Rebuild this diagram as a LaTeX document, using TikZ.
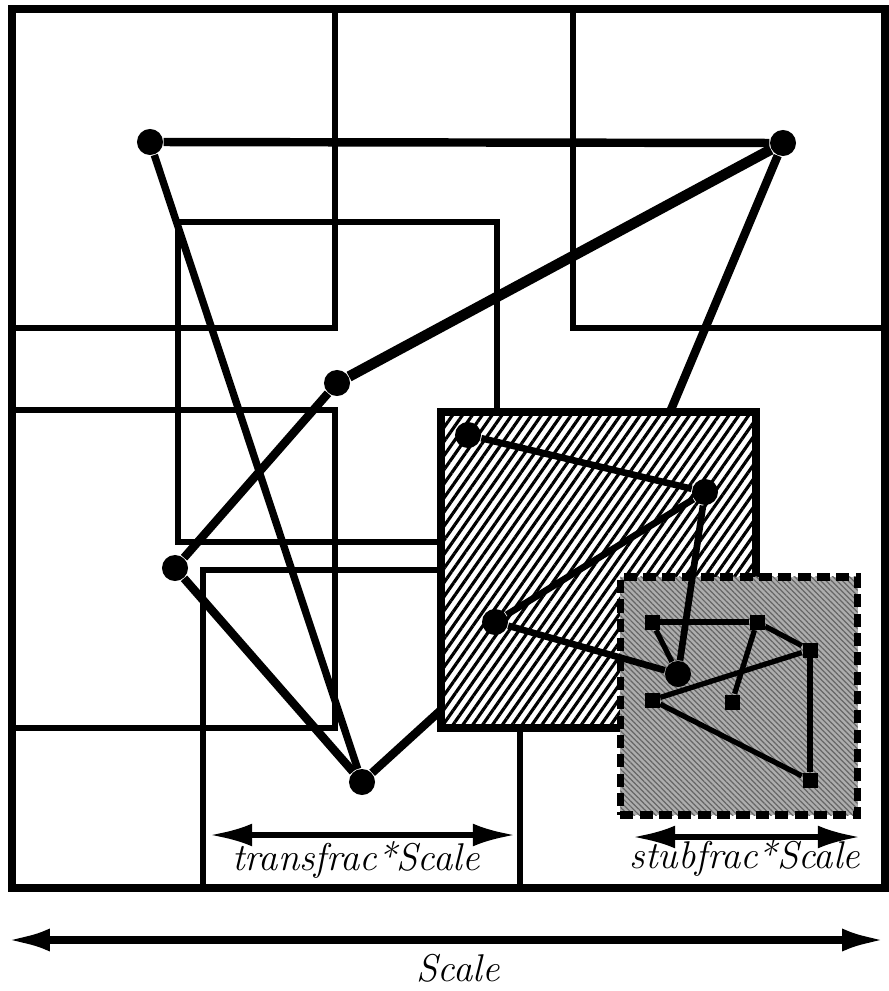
\documentclass[tikz,border=0pt]{standalone}
\usepackage{tikz}
\usetikzlibrary{arrows.meta, patterns.meta}
\tikzset{
    cell/.style={draw=black, line width=1.6pt},
    vertex/.style={circle, fill=black, inner sep=0pt, minimum size=0.26cm},
    subvertex/.style={rectangle, fill=black, inner sep=0pt, minimum size=0.15cm},
    edge/.style={draw=black, line width=2.4pt},
    inneredge/.style={draw=black, line width=1.9pt},
    subedge/.style={draw=black, line width=1.5pt},
    transbox/.style={rectangle, draw=black, line width=2.4pt, preaction={fill=white},
        pattern={Lines[angle=55, distance=2.3pt, line width=0.9pt]}},
    stubbox/.style={rectangle, draw=black, line width=2.1pt, dash pattern=on 3.7pt off 1.8pt,
        preaction={fill=black!32}, pattern={Lines[angle=-45, distance=1.1pt, line width=0.35pt]},
        pattern color=black!60},
    dimarrow/.style={{Latex[length=12pt,width=6.5pt]}-{Latex[length=12pt,width=6.5pt]}, line width=1.5pt},
    dimlabel/.style={font=\fontsize{11}{13}\selectfont\itshape, inner sep=0pt, anchor=base}
}

\begin{document}
\begin{tikzpicture}[x=0.01cm, y=-0.01cm]
    \useasboundingbox (0,0) rectangle (889,991);

    % domain and the cells of the decomposition
    \draw[cell, line width=2.2pt] (12,9) rectangle (885,888);
    \draw[cell] (12,328) -| (335,9);
    \draw[cell] (573,9) |- (885,328);
    \draw[cell] (178,222) rectangle (497,542);
    \draw[cell] (12,410) rectangle (335,728);
    \draw[cell] (203,570) rectangle (520,888);

    \node[transbox, minimum width=3.15cm, minimum height=3.16cm] (trans) at (598.5,570) {};
    \node[stubbox, minimum width=2.37cm, minimum height=2.38cm] (stub) at (739,696) {};

    % top level graph
    \node[vertex] (a) at (150,142) {};
    \node[vertex] (b) at (783,143) {};
    \node[vertex] (c) at (337,383) {};
    \node[vertex] (d) at (175,568) {};
    \node[vertex] (e) at (362,782) {};
    \coordinate (bin) at (670,412);
    \coordinate (ein) at (441,710);

    \draw[edge] (a) -- (b);
    \draw[edge, line width=2.1pt] (a) -- (e);
    \draw[edge, line width=3pt] (b) -- (c);
    \draw[edge] (c) -- (d);
    \draw[edge] (d) -- (e);
    \draw[edge] (b) -- (bin);
    \draw[edge] (e) -- (ein);

    % graph inside the transition box
    \node[vertex] (f) at (468,435) {};
    \node[vertex] (g) at (705,492) {};
    \node[vertex] (h) at (495,622) {};
    \node[vertex] (i) at (678,674) {};

    \draw[inneredge] (f) -- (g);
    \draw[inneredge] (g) -- (h);
    \draw[inneredge] (h) -- (i);
    \draw[inneredge] (g) -- (i);

    % graph inside the stub box
    \node[subvertex] (s1) at (652,622) {};
    \node[subvertex] (s2) at (757,622) {};
    \node[subvertex] (s3) at (810,650) {};
    \node[subvertex] (s4) at (652,700) {};
    \node[subvertex] (s5) at (732,702) {};
    \node[subvertex] (s6) at (810,780) {};

    \draw[subedge] (s1) -- (s2);
    \draw[subedge] (s2) -- (s3);
    \draw[subedge] (s2) -- (s5);
    \draw[subedge] (s3) -- (s4);
    \draw[subedge] (s3) -- (s6);
    \draw[subedge] (s4) -- (s6);
    \draw[subedge] (s1) -- (i);

    % dimensions
    \coordinate (tl) at (210,835);
    \coordinate (tr) at (515,835);
    \draw[dimarrow] (tl) -- (tr);
    \node[dimlabel] (tlab) at (356,870) {transfrac*Scale};

    \coordinate (sl) at (633,837);
    \coordinate (sr) at (860,837);
    \draw[dimarrow] (sl) -- (sr);
    \node[dimlabel] (slab) at (745,868) {stubfrac*Scale};

    \coordinate (ll) at (6,940);
    \coordinate (lr) at (886,940);
    \draw[dimarrow, line width=2.1pt, {Latex[length=12.5pt,width=6.5pt]}-{Latex[length=12.5pt,width=6.5pt]}] (ll) -- (lr);
    \node[dimlabel] (llab) at (458,981) {Scale};
\end{tikzpicture}
\end{document}
